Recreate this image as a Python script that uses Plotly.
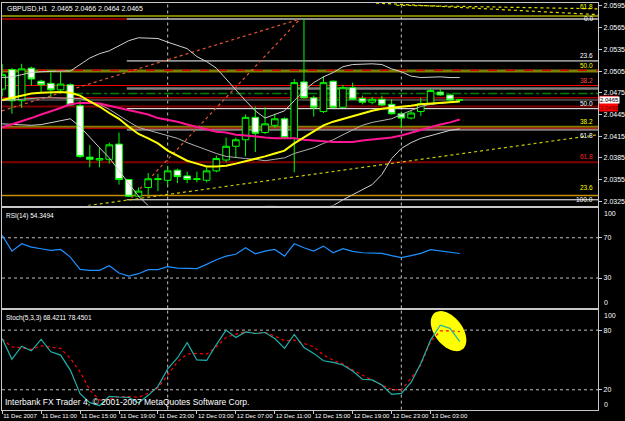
import numpy as np
import plotly.graph_objects as go

# ---------------- data ----------------
time_labels = ["11 Dec 2007", "11 Dec 11:00", "11 Dec 15:00", "11 Dec 19:00", "11 Dec 23:00",
               "12 Dec 03:00", "12 Dec 07:00", "12 Dec 11:00", "12 Dec 15:00", "12 Dec 19:00",
               "12 Dec 23:00", "13 Dec 03:00"]
label_bars = [0, 4, 8, 12, 16, 20, 24, 28, 32, 36, 40, 44]

opens = [2.0480, 2.0507, 2.0464, 2.0509, 2.0491, 2.0488, 2.0479, 2.0486, 2.0457, 2.0386,
         2.0382, 2.0383, 2.0404, 2.0355, 2.0332, 2.0344, 2.0355, 2.0354, 2.0368, 2.0360,
         2.0355, 2.0354, 2.0367, 2.0382, 2.0401, 2.0410, 2.0441, 2.0420, 2.0430, 2.0439,
         2.0412, 2.0490, 2.0468, 2.0449, 2.0491, 2.0455, 2.0482, 2.0467, 2.0462, 2.0466,
         2.0459, 2.0446, 2.0440, 2.0449, 2.0459, 2.0476, 2.0472, 2.0465]
highs = [2.0515, 2.0509, 2.0515, 2.0511, 2.0493, 2.0503, 2.0504, 2.0488, 2.0464, 2.0403,
         2.0399, 2.0406, 2.0420, 2.0356, 2.0344, 2.0364, 2.0363, 2.0374, 2.0370, 2.0366,
         2.0366, 2.0372, 2.0388, 2.0413, 2.0413, 2.0445, 2.0456, 2.0455, 2.0446, 2.0441,
         2.0494, 2.0577, 2.0471, 2.0498, 2.0492, 2.0486, 2.0489, 2.0471, 2.0469, 2.0471,
         2.0466, 2.0449, 2.0450, 2.0468, 2.0481, 2.0480, 2.0474, 2.0466]
lows = [2.0470, 2.0446, 2.0454, 2.0485, 2.0475, 2.0469, 2.0475, 2.0457, 2.0385, 2.0372,
        2.0372, 2.0377, 2.0348, 2.0331, 2.0331, 2.0334, 2.0339, 2.0347, 2.0350, 2.0350,
        2.0351, 2.0351, 2.0365, 2.0379, 2.0386, 2.0387, 2.0393, 2.0418, 2.0426, 2.0411,
        2.0365, 2.0467, 2.0442, 2.0447, 2.0454, 2.0454, 2.0465, 2.0459, 2.0459, 2.0457,
        2.0445, 2.0426, 2.0438, 2.0443, 2.0458, 2.0471, 2.0464, 2.0464]
closes = [2.0500, 2.0464, 2.0508, 2.0494, 2.0486, 2.0479, 2.0487, 2.0458, 2.0387, 2.0383,
          2.0384, 2.0403, 2.0355, 2.0332, 2.0339, 2.0356, 2.0356, 2.0367, 2.0359, 2.0355,
          2.0356, 2.0367, 2.0384, 2.0401, 2.0410, 2.0441, 2.0419, 2.0432, 2.0439, 2.0413,
          2.0489, 2.0468, 2.0455, 2.0489, 2.0455, 2.0482, 2.0466, 2.0462, 2.0466, 2.0458,
          2.0446, 2.0440, 2.0447, 2.0460, 2.0478, 2.0472, 2.0465, 2.0465]

bb_upper = [2.0496, 2.0497, 2.0500, 2.0503, 2.0504, 2.0505, 2.0505, 2.0505, 2.0514, 2.0523,
            2.0529, 2.0533, 2.0540, 2.0547, 2.0551, 2.0551, 2.0550, 2.0545, 2.0541, 2.0536,
            2.0525, 2.0518, 2.0509, 2.0494, 2.0478, 2.0464, 2.0450, 2.0440, 2.0445, 2.0450,
            2.0464, 2.0478, 2.0489, 2.0497, 2.0503, 2.0511, 2.0514, 2.0515, 2.0515, 2.0514,
            2.0508, 2.0504, 2.0498, 2.0496, 2.0497, 2.0497, 2.0496, 2.0496]
bb_middle = [2.0464, 2.0465, 2.0467, 2.0467, 2.0468, 2.0468, 2.0468, 2.0468, 2.0467, 2.0463,
             2.0459, 2.0452, 2.0443, 2.0435, 2.0427, 2.0423, 2.0420, 2.0416, 2.0412, 2.0406,
             2.0401, 2.0395, 2.0391, 2.0387, 2.0385, 2.0384, 2.0383, 2.0381, 2.0383, 2.0385,
             2.0391, 2.0395, 2.0399, 2.0405, 2.0410, 2.0417, 2.0424, 2.0430, 2.0434, 2.0436,
             2.0439, 2.0445, 2.0450, 2.0456, 2.0459, 2.0460, 2.0461, 2.0463]
bb_lower = [2.0432, 2.0431, 2.0430, 2.0430, 2.0431, 2.0434, 2.0436, 2.0439, 2.0428, 2.0413,
            2.0399, 2.0385, 2.0367, 2.0349, 2.0332, 2.0319, 2.0298, 2.0286, 2.0282, 2.0276,
            2.0276, 2.0272, 2.0272, 2.0279, 2.0293, 2.0304, 2.0312, 2.0318, 2.0318, 2.0316,
            2.0314, 2.0312, 2.0312, 2.0315, 2.0319, 2.0327, 2.0334, 2.0340, 2.0348, 2.0362,
            2.0384, 2.0398, 2.0406, 2.0412, 2.0416, 2.0419, 2.0423, 2.0425]
ma_yellow = [2.0465, 2.0468, 2.0471, 2.0474, 2.0475, 2.0476, 2.0476, 2.0475, 2.0471, 2.0463,
             2.0456, 2.0447, 2.0439, 2.0428, 2.0418, 2.0412, 2.0405, 2.0395, 2.0388, 2.0381,
             2.0377, 2.0373, 2.0373, 2.0374, 2.0377, 2.0380, 2.0383, 2.0387, 2.0391, 2.0395,
             2.0405, 2.0413, 2.0421, 2.0430, 2.0435, 2.0439, 2.0443, 2.0447, 2.0450, 2.0453,
             2.0454, 2.0456, 2.0457, 2.0459, 2.0460, 2.0461, 2.0461, 2.0463]
ma_pink = [2.0427, 2.0431, 2.0436, 2.0440, 2.0445, 2.0449, 2.0454, 2.0459, 2.0461, 2.0461,
           2.0460, 2.0457, 2.0454, 2.0452, 2.0449, 2.0445, 2.0440, 2.0438, 2.0435, 2.0431,
           2.0428, 2.0424, 2.0421, 2.0420, 2.0417, 2.0416, 2.0414, 2.0413, 2.0412, 2.0412,
           2.0412, 2.0410, 2.0409, 2.0407, 2.0407, 2.0407, 2.0407, 2.0409, 2.0410, 2.0412,
           2.0413, 2.0416, 2.0420, 2.0424, 2.0428, 2.0431, 2.0434, 2.0438]

rsi = [72.3, 56.7, 64.0, 60.7, 59.1, 57.4, 58.4, 50.8, 38.6, 37.6,
       37.6, 42.3, 35.0, 32.0, 34.3, 38.3, 38.3, 41.3, 39.9, 39.3,
       39.3, 43.6, 48.2, 51.8, 53.6, 60.1, 54.1, 56.7, 58.4, 51.8,
       64.0, 60.1, 56.7, 61.7, 55.1, 59.1, 56.4, 55.1, 55.1, 54.5,
       52.2, 50.2, 52.2, 54.5, 58.1, 56.7, 55.1, 54.35]
stoch_main = [71.7, 50.6, 63.9, 59.2, 70.7, 58.2, 54.9, 39.8, 16.0, 7.0,
              4.0, 13.4, 12.7, 12.4, 6.6, 14.4, 23.4, 41.0, 52.0, 67.3,
              50.0, 49.5, 65.5, 80.0, 72.5, 78.2, 76.6, 77.6, 71.6, 61.6,
              75.7, 62.6, 56.6, 49.2, 47.6, 44.9, 38.9, 30.6, 29.9, 24.7,
              15.4, 16.4, 27.4, 46.5, 70.0, 85.0, 81.8, 68.42]
stoch_signal = [71.0, 63.2, 62.2, 60.6, 64.2, 63.2, 61.6, 51.6, 38.1, 19.7,
                9.6, 10.4, 13.0, 13.0, 12.5, 16.4, 22.0, 34.8, 48.1, 55.9,
                56.6, 55.9, 63.2, 72.7, 76.0, 78.3, 76.7, 77.7, 74.0, 69.2,
                70.0, 66.6, 63.2, 54.9, 49.8, 45.8, 39.8, 34.8, 29.7, 24.7,
                20.4, 19.7, 31.5, 44.8, 68.2, 79.3, 79.3, 78.45]

price_ticks = [2.0325, 2.0355, 2.0385, 2.0415, 2.0445, 2.0475, 2.0505, 2.0535, 2.0565, 2.0595]
rsi_ticks = [30, 70]
sto_ticks = [20, 80]
separator_bars = [17, 41]

FULL, FIB, DD, LEFT = "full", "fib", "dd", "leftpart"
hline_prices = [2.0581, 2.0577, 2.0577, 2.0519, 2.0505, 2.0506, 2.0485, 2.0481, 2.0474,
                2.0468, 2.0465, 2.0456, 2.0453, 2.0428, 2.0426, 2.0424, 2.0379, 2.0333, 2.0327]
hline_spans = [FULL, LEFT, FIB, FIB, FULL, FULL, FULL, FIB, DD,
               FULL, FULL, FULL, FIB, FULL, FULL, FIB, FULL, FULL, FIB]
hline_styles = [("#808000", 2, "solid"), ("#C00000", 1.5, "solid"), ("#C0C0C0", 1.5, "solid"),
                ("#FFFFFF", 1, "solid"), ("#808000", 3, "solid"), ("#D00000", 1.5, "dash"),
                ("#FF0000", 1, "solid"), ("#808080", 2.5, "solid"), ("#008000", 1.5, "dashdot"),
                ("#FF0000", 1, "solid"), ("#808080", 1, "solid"), ("#800000", 2, "solid"),
                ("#FFFFFF", 1, "solid"), ("#808000", 2, "solid"), ("#FF0000", 1, "solid"),
                ("#808080", 2, "solid"), ("#800000", 2, "solid"), ("#C89000", 1.5, "solid"),
                ("#FFFFFF", 1, "solid")]

fib_texts = ["61.8", "0.0", "23.6", "50.0", "38.2", "50.0", "38.2", "61.8", "61.8", "23.6", "100.0"]
fib_prices = [2.0587, 2.0577, 2.0519, 2.0505, 2.0485, 2.0453, 2.0428, 2.0424, 2.0379, 2.0337, 2.0327]
fib_anchor = ["bottom", "middle", "bottom", "bottom", "bottom", "bottom", "bottom", "top", "bottom",
              "bottom", "middle"]
fib_colors = ["#FFFF00", "#FFFFFF", "#FFFFFF", "#FFFF00", "#FF4040", "#FFFFFF", "#FFFF00",
              "#FFFFFF", "#FF2020", "#FFFF00", "#FFFFFF"]

trend_bars0 = [8.8, -0.02, 13.3, 38.4, 40.5]
trend_p0 = [2.0319, 2.0450, 2.0330, 2.0599, 2.0596]
trend_bars1 = [61.2, 30.6, 30.6, 61.2, 61.2]
trend_p1 = [2.0417, 2.0577, 2.0577, 2.0583, 2.0591]
trend_styles = [("#C8C800", 1.2, "dot"), ("#E05530", 1.2, "dot"), ("#E05530", 1.2, "dot"),
                ("#E0E000", 1.2, "dot"), ("#E0E000", 1.2, "dot")]

# ---------------- layout geometry ----------------
W, H = 625, 421
bars = list(range(len(opens)))
x_range = [-0.02, 61.22]
xdom = [2 / W, 604 / W]
main_dom = [1 - 205 / H, 1 - 2 / H]
rsi_dom = [1 - 308 / H, 1 - 207 / H]
sto_dom = [1 - 409.6 / H, 1 - 310 / H]
price_range = [2.03191, 2.05991]
FIB_START, DD_START = 12.8, 7.4

border = "#C8C8C8"
FONT = "Liberation Sans"
NARROW = "Liberation Sans Narrow, Arial Narrow, Liberation Sans"
tickfont = dict(family=FONT, size=7, color="#FFFFFF")

fig = go.Figure()

fig.add_trace(go.Scatter(x=bars, y=bb_upper, mode="lines", line=dict(color="#D0D0D0", width=1),
                         xaxis="x", yaxis="y", hoverinfo="skip"))
fig.add_trace(go.Scatter(x=bars, y=bb_middle, mode="lines", line=dict(color="#B0B0B0", width=1),
                         xaxis="x", yaxis="y", hoverinfo="skip"))
fig.add_trace(go.Scatter(x=bars, y=bb_lower, mode="lines", line=dict(color="#D0D0D0", width=1),
                         xaxis="x", yaxis="y", hoverinfo="skip"))
fig.add_trace(go.Scatter(x=bars, y=ma_pink, mode="lines", line=dict(color="#FF1493", width=2),
                         xaxis="x", yaxis="y", hoverinfo="skip"))
fig.add_trace(go.Scatter(x=bars, y=ma_yellow, mode="lines", line=dict(color="#FFFF00", width=2),
                         xaxis="x", yaxis="y", hoverinfo="skip"))
fig.add_trace(go.Candlestick(
    x=bars, open=opens, high=highs, low=lows, close=closes, xaxis="x", yaxis="y",
    increasing=dict(line=dict(color="#00FF00", width=1), fillcolor="#000000"),
    decreasing=dict(line=dict(color="#00FF00", width=1), fillcolor="#FFFFFF"),
    whiskerwidth=0, hoverinfo="skip"))

fig.add_trace(go.Scatter(x=bars, y=rsi, mode="lines", line=dict(color="#1E90FF", width=1.2),
                         xaxis="x2", yaxis="y2", hoverinfo="skip"))
fig.add_trace(go.Scatter(x=bars, y=stoch_signal, mode="lines",
                         line=dict(color="#FF0000", width=1.2, dash="dot"),
                         xaxis="x3", yaxis="y3", hoverinfo="skip"))
fig.add_trace(go.Scatter(x=bars, y=stoch_main, mode="lines", line=dict(color="#20B2AA", width=1.2),
                         xaxis="x3", yaxis="y3", hoverinfo="skip"))

shapes = []
for p, span, (col, w, dash) in zip(hline_prices, hline_spans, hline_styles):
    if span == FULL:
        x0, x1 = x_range
    elif span == FIB:
        x0, x1 = FIB_START, x_range[1]
    elif span == DD:
        x0, x1 = DD_START, x_range[1]
    else:
        x0, x1 = x_range[0], FIB_START
    shapes.append(dict(type="line", xref="x", yref="y", x0=x0, x1=x1, y0=p, y1=p,
                       line=dict(color=col, width=w, dash=dash), layer="below"))
for b0, p0, b1, p1, (col, w, dash) in zip(trend_bars0, trend_p0, trend_bars1, trend_p1, trend_styles):
    shapes.append(dict(type="line", xref="x", yref="y", x0=b0, x1=b1, y0=p0, y1=p1,
                       line=dict(color=col, width=w, dash=dash), layer="below"))
for sb in separator_bars:
    for xr, dom in (("x", main_dom), ("x2", rsi_dom), ("x3", sto_dom)):
        shapes.append(dict(type="line", xref=xr, yref="paper", x0=sb, x1=sb, y0=dom[0], y1=dom[1],
                           line=dict(color="#C0C0C0", width=1, dash="dot"), layer="below"))
for lv in rsi_ticks:
    shapes.append(dict(type="line", xref="x2", yref="y2", x0=x_range[0], x1=x_range[1], y0=lv, y1=lv,
                       line=dict(color="#C0C0C0", width=1, dash="dot"), layer="below"))
for lv in sto_ticks:
    shapes.append(dict(type="line", xref="x3", yref="y3", x0=x_range[0], x1=x_range[1], y0=lv, y1=lv,
                       line=dict(color="#C0C0C0", width=1, dash="dot"), layer="below"))

# yellow highlight ellipse drawn on the stochastic
ell_cx, ell_cy = 45.85, 79.0
ell_a, ell_b, ell_ang = 23.0, 14.0, np.deg2rad(52)
bar_px, val_px = 9.83, 0.995
t = np.linspace(0, 2 * np.pi, 60)
ex = ell_cx + (ell_a * np.cos(ell_ang) * np.cos(t) - ell_b * np.sin(ell_ang) * np.sin(t)) / bar_px
ey = ell_cy - (ell_a * np.sin(ell_ang) * np.cos(t) + ell_b * np.cos(ell_ang) * np.sin(t)) / val_px
path = "M " + " L ".join(f"{a:.3f},{b:.3f}" for a, b in zip(ex, ey)) + " Z"
shapes.append(dict(type="path", xref="x3", yref="y3", path=path, fillcolor="#FFFF00",
                   line=dict(color="#FFFF00", width=0), layer="below"))

# red price-marker band on the scale
shapes.append(dict(type="rect", xref="paper", yref="y", x0=605 / W, x1=624 / W, y0=2.0449, y1=2.0471,
                   fillcolor="#FF0000", line=dict(width=0)))

annotations = []
small = dict(family=FONT, size=7, color="#FFFFFF")
annotations.append(dict(text="GBPUSD,H1  2.0465 2.0466 2.0464 2.0465", xref="paper", yref="paper",
                        x=5 / W, y=1 - 2 / H, xanchor="left", yanchor="top", showarrow=False, font=small))
annotations.append(dict(text="RSI(14) 54.3494", xref="paper", yref="paper", x=4 / W, y=1 - 209 / H,
                        xanchor="left", yanchor="top", showarrow=False,
                        font=dict(family=FONT, size=6.5, color="#FFFFFF")))
annotations.append(dict(text="Stoch(5,3,3) 68.4211 78.4501", xref="paper", yref="paper", x=4 / W,
                        y=1 - 312 / H, xanchor="left", yanchor="top", showarrow=False,
                        font=dict(family=FONT, size=6.5, color="#FFFFFF")))
annotations.append(dict(text="Interbank FX Trader 4, © 2001-2007 MetaQuotes Software Corp.", xref="paper",
                        yref="paper", x=3 / W, y=1 - 409 / H, xanchor="left", yanchor="bottom",
                        showarrow=False, font=dict(family=FONT, size=8.5, color="#FFFFFF")))
for txt, p, anc, col in zip(fib_texts, fib_prices, fib_anchor, fib_colors):
    annotations.append(dict(text=txt, xref="x", yref="y", x=60.85, y=p, xanchor="right", yanchor=anc,
                            showarrow=False, font=dict(family=FONT, size=6.5, color=col)))
annotations.append(dict(text="2.0465", xref="paper", yref="y", x=605 / W, y=2.0465, xanchor="left",
                        yanchor="middle", showarrow=False, bgcolor="#FFFFFF", borderpad=0,
                        font=dict(family=FONT, size=6, color="#000000")))
annotations.append(dict(text="2.0456", xref="paper", yref="y", x=605 / W, y=2.0454, xanchor="left",
                        yanchor="middle", showarrow=False, borderpad=0,
                        font=dict(family=FONT, size=6, color="#600000")))
for txt, yv, yr, anc in (("100", 100, "y2", "top"), ("0", 0, "y2", "bottom"),
                         ("100", 100, "y3", "top"), ("0", 0, "y3", "bottom")):
    annotations.append(dict(text=txt, xref="paper", yref=yr, x=608 / W, y=yv, xanchor="left", yanchor=anc,
                            showarrow=False, font=tickfont))

common_x = dict(range=x_range, domain=xdom, showgrid=False, zeroline=False, showline=True, mirror=True,
                linecolor=border, linewidth=1, fixedrange=True)
common_y = dict(side="right", showgrid=False, zeroline=False, showline=True, mirror=True, linecolor=border,
                linewidth=1, ticks="outside", ticklen=3, tickcolor=border, tickfont=tickfont, fixedrange=True)

fig.update_layout(
    width=W, height=H, margin=dict(l=0, r=0, t=0, b=0),
    paper_bgcolor="#000000", plot_bgcolor="#000000", showlegend=False,
    boxgap=0.32, boxgroupgap=0,
    xaxis=dict(**common_x, anchor="y", showticklabels=False, ticks="", rangeslider=dict(visible=False)),
    yaxis=dict(**common_y, anchor="x", domain=main_dom, range=price_range, tickvals=price_ticks,
               ticktext=[f"{v:.4f}" for v in price_ticks]),
    xaxis2=dict(**common_x, anchor="y2", showticklabels=False, ticks=""),
    yaxis2=dict(**common_y, anchor="x2", domain=rsi_dom, range=[0, 100], tickvals=rsi_ticks),
    xaxis3=dict(**common_x, anchor="y3", tickvals=label_bars, ticktext=time_labels, ticks="outside",
                ticklen=3, tickcolor=border, ticklabelposition="outside right", tickangle=0,
                tickfont=dict(family=NARROW, size=6, color="#FFFFFF")),
    yaxis3=dict(**common_y, anchor="x3", domain=sto_dom, range=[0, 100], tickvals=sto_ticks),
    shapes=shapes, annotations=annotations,
)

fig.write_html("out.html")
